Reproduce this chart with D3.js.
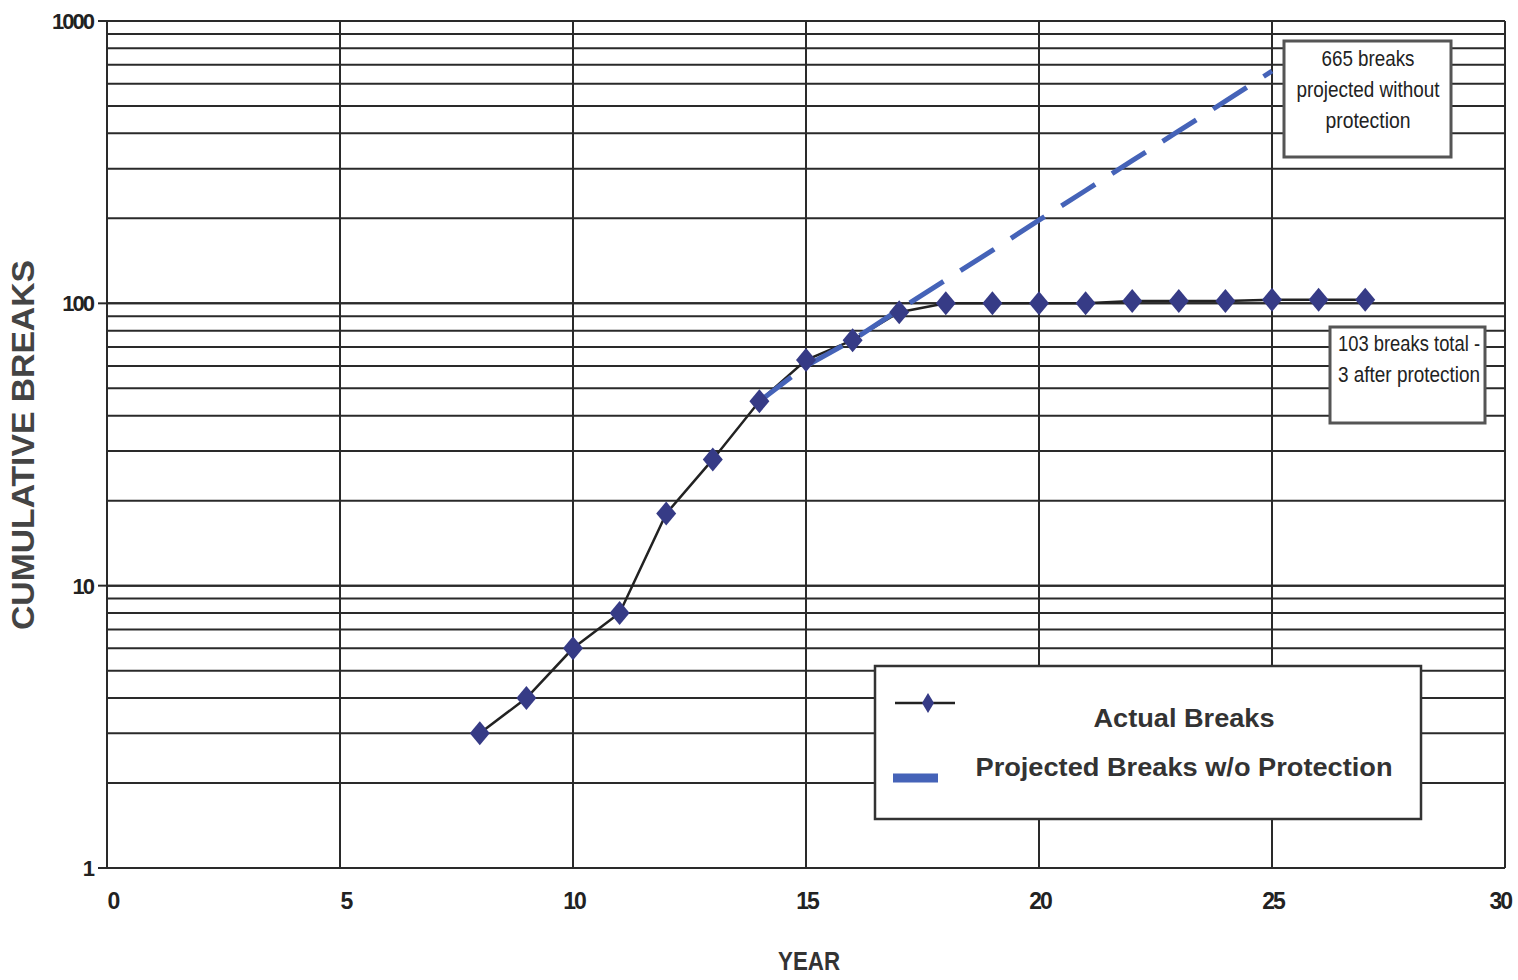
<!DOCTYPE html>
<html lang="en">
<head>
<meta charset="utf-8">
<script src="https://d3js.org/d3.v7.min.js"></script>
<style>
  body { margin: 0; background: #fff; }
  text { font-family: "Liberation Sans", Arial, sans-serif; fill: #222; }
</style>
</head>
<body>
<script>
    var width = 1518;
    var height = 980;

    // actual cumulative breaks
    var actualYears  = [8, 9, 10, 11, 12, 13, 14, 15, 16, 17, 18, 19, 20, 21, 22, 23, 24, 25, 26, 27];
    var actualBreaks = [3, 4, 6, 8, 18, 28, 45, 63, 74, 93, 100, 100, 100, 100, 102, 102, 102, 103, 103, 103];

    // projected breaks without protection
    var projYears  = [14, 15, 16, 17, 18, 19, 20, 21, 22, 23, 24, 25];
    var projBreaks = [45, 60, 74, 95, 121, 154, 197, 251, 320, 408, 520, 665];

    var xTicks = [0, 5, 10, 15, 20, 25, 30];
    var yTicks = [1, 10, 100, 1000];

    var margin = {left: 107, right: 13, top: 21, bottom: 112};

    var svg = d3.select("body")
                .append("svg")
                .attr("width", width)
                .attr("height", height);

    var x = d3.scaleLinear().domain([0, 30]).range([margin.left, width - margin.right]);
    var y = d3.scaleLog().domain([1, 1000]).range([height - margin.bottom, margin.top]);

    // horizontal grid at every log minor step
    var minor = [];
    [1, 10, 100].forEach(function (d) {
        for (var k = 1; k <= 10; k++) minor.push(d * k);
    });
    svg.append("g")
       .selectAll("line")
       .data(minor)
       .enter().append("line")
       .attr("x1", x(0)).attr("x2", x(30))
       .attr("y1", function (d) { return y(d); })
       .attr("y2", function (d) { return y(d); })
       .attr("stroke", "#2a2a2a")
       .attr("stroke-width", 2);

    // vertical grid
    svg.append("g")
       .selectAll("line")
       .data(xTicks)
       .enter().append("line")
       .attr("x1", function (d) { return x(d); })
       .attr("x2", function (d) { return x(d); })
       .attr("y1", y(1000)).attr("y2", y(1))
       .attr("stroke", "#2a2a2a")
       .attr("stroke-width", 2);

    // small ticks at decades on the y axis
    svg.append("g")
       .selectAll("line")
       .data(yTicks)
       .enter().append("line")
       .attr("x1", x(0) - 9).attr("x2", x(0))
       .attr("y1", function (d) { return y(d); })
       .attr("y2", function (d) { return y(d); })
       .attr("stroke", "#2a2a2a")
       .attr("stroke-width", 2);

    // tick labels
    svg.append("g")
       .selectAll("text")
       .data(yTicks)
       .enter().append("text")
       .attr("x", x(0) - 14)
       .attr("y", function (d) { return y(d) + 8; })
       .attr("text-anchor", "end")
       .style("font-size", "22px")
       .style("font-weight", "bold")
       .style("letter-spacing", "-2px")
       .text(function (d) { return d; });

    svg.append("g")
       .selectAll("text")
       .data(xTicks)
       .enter().append("text")
       .attr("x", function (d) {
           if (d == 30) return 1511;
           return x(d) + (d < 10 ? 6 : 1);
       })
       .attr("y", 909)
       .attr("text-anchor", function (d) { return d == 30 ? "end" : "middle"; })
       .style("font-size", "23px")
       .style("font-weight", "bold")
       .style("letter-spacing", "-2px")
       .text(function (d) { return d; });

    // axis titles
    svg.append("text")
       .attr("transform", "translate(34,445) rotate(-90)")
       .attr("text-anchor", "middle")
       .attr("textLength", 370)
       .attr("lengthAdjust", "spacingAndGlyphs")
       .style("font-size", "31px")
       .style("font-weight", "bold")
       .style("fill", "#444")
       .text("CUMULATIVE BREAKS");

    svg.append("text")
       .attr("x", 778).attr("y", 970)
       .attr("textLength", 62)
       .attr("lengthAdjust", "spacingAndGlyphs")
       .style("font-size", "25px")
       .style("font-weight", "bold")
       .style("fill", "#333")
       .text("YEAR");

    // actual line
    var line = d3.line()
                 .x(function (d) { return x(d[0]); })
                 .y(function (d) { return y(d[1]); });

    var actual = d3.zip(actualYears, actualBreaks);
    var proj = d3.zip(projYears, projBreaks);

    svg.append("path")
       .datum(actual)
       .attr("d", line)
       .attr("fill", "none")
       .attr("stroke", "#222")
       .attr("stroke-width", 2.5);

    svg.append("path")
       .datum(proj)
       .attr("d", line)
       .attr("fill", "none")
       .attr("stroke", "#4563b8")
       .attr("stroke-width", 5)
       .attr("stroke-dasharray", "40,20");

    var diamond = "M0,-12 L10,0 L0,12 L-10,0 Z";
    svg.append("g")
       .selectAll("path")
       .data(actual)
       .enter().append("path")
       .attr("d", diamond)
       .attr("transform", function (d) { return "translate(" + x(d[0]) + "," + y(d[1]) + ")"; })
       .attr("fill", "#363b86");

    // annotation boxes
    function note(x0, y0, w, h, lines, anchor, tx, ty, lens) {
        svg.append("rect")
           .attr("x", x0).attr("y", y0)
           .attr("width", w).attr("height", h)
           .attr("fill", "#fff")
           .attr("stroke", "#555")
           .attr("stroke-width", 3);
        lines.forEach(function (t, i) {
            svg.append("text")
               .attr("x", tx).attr("y", ty + i * 31)
               .attr("text-anchor", anchor)
               .attr("textLength", lens[i])
               .attr("lengthAdjust", "spacingAndGlyphs")
               .style("font-size", "22px")
               .style("fill", "#222")
               .text(t);
        });
    }
    note(1284, 41, 167, 116, ["665 breaks", "projected without", "protection"], "middle", 1368, 66, [93, 143, 85]);
    note(1330, 327, 155, 96, ["103 breaks total -", "3 after protection"], "start", 1338, 351, [142, 142]);

    // legend
    var lg = svg.append("g");
    lg.append("rect")
      .attr("x", 875).attr("y", 666)
      .attr("width", 546).attr("height", 153)
      .attr("fill", "#fff")
      .attr("stroke", "#333")
      .attr("stroke-width", 2.5);
    lg.append("line")
      .attr("x1", 895).attr("x2", 955)
      .attr("y1", 703).attr("y2", 703)
      .attr("stroke", "#222").attr("stroke-width", 2.5);
    lg.append("path")
      .attr("d", "M0,-10 L6,0 L0,10 L-6,0 Z")
      .attr("transform", "translate(928,703)")
      .attr("fill", "#363b86");
    lg.append("line")
      .attr("x1", 893).attr("x2", 938)
      .attr("y1", 778).attr("y2", 778)
      .attr("stroke", "#4563b8").attr("stroke-width", 9);
    lg.append("text")
      .attr("x", 1184).attr("y", 727)
      .attr("text-anchor", "middle")
      .attr("textLength", 181)
      .attr("lengthAdjust", "spacingAndGlyphs")
      .style("font-size", "25px")
      .style("font-weight", "bold")
      .style("fill", "#333")
      .text("Actual Breaks");
    lg.append("text")
      .attr("x", 1184).attr("y", 776)
      .attr("text-anchor", "middle")
      .attr("textLength", 417)
      .attr("lengthAdjust", "spacingAndGlyphs")
      .style("font-size", "25px")
      .style("font-weight", "bold")
      .style("fill", "#333")
      .text("Projected Breaks w/o Protection");
</script>
</body>
</html>
